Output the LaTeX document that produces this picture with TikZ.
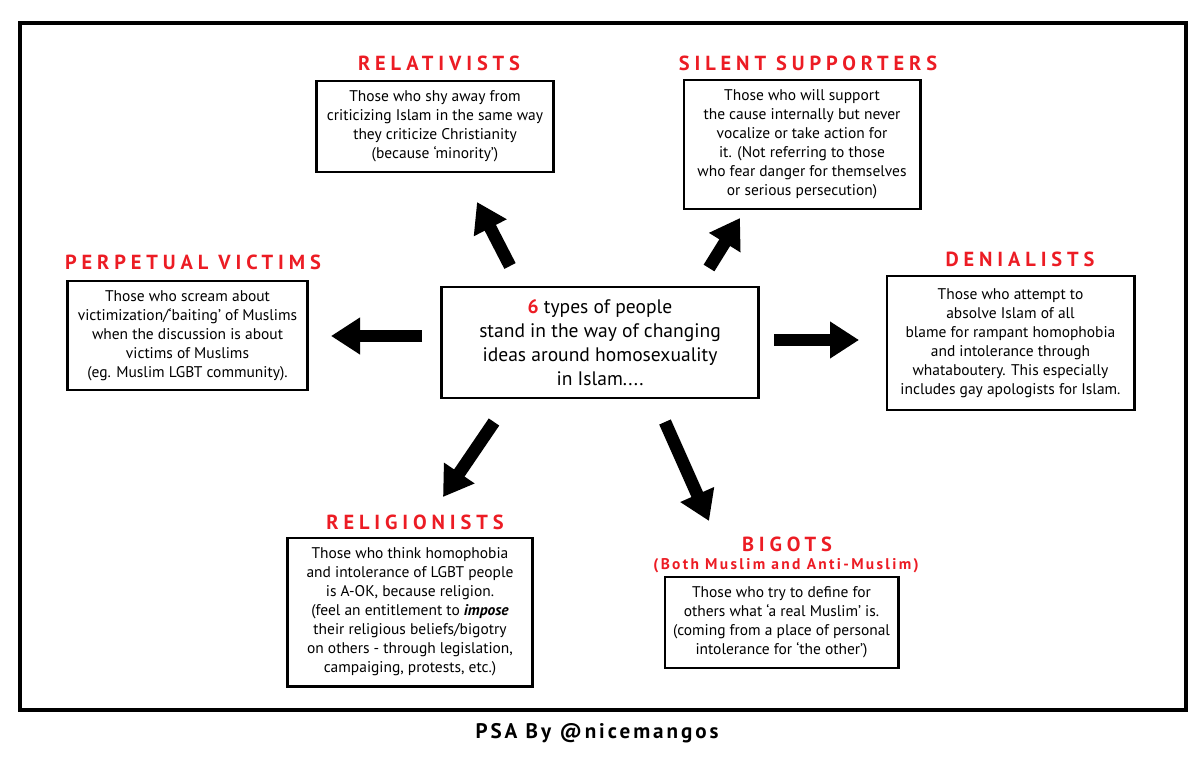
\documentclass[tikz,border=0pt]{standalone}
\usepackage{fontspec}
\setmainfont{PT Sans}
\usetikzlibrary{arrows.meta}
\tikzset{
  frame-line/.style={line width=3.5pt, draw=black},
  box-plain/.style={
    draw=black,
    line width=2.1pt,
    align=center,
    inner sep=0pt,
    font={\fontsize{11}{13.5}\selectfont}
  },
  box-hub/.style={
    box-plain,
    font={\fontsize{13.9}{17}\selectfont}
  },
  title-red/.style={
    text=titlered,
    inner sep=0pt,
    font={\fontsize{14.5}{16}\selectfont\bfseries\addfontfeatures{LetterSpace=24}}
  },
  title-sub/.style={
    title-red,
    font={\fontsize{11}{13}\selectfont\bfseries\addfontfeatures{LetterSpace=15}}
  },
  fat-arrow/.style={
    draw=black,
    line width=9pt,
    -{Triangle[length=7.25mm, width=8.75mm]}
  }
}
\definecolor{titlered}{RGB}{236,28,36}

\begin{document}
\begin{tikzpicture}[x=0.025cm, y=-0.025cm]
  \useasboundingbox (0,0) rectangle (1200,761);
  \draw[frame-line] (20,23) rectangle (1186,710);

  % centre box
  \node[box-hub, minimum width=7.9cm, minimum height=2.775cm] (hub) at (600,342.5)
    {{\color{titlered}\bfseries 6} types of people\\
     stand in the way of changing\\
     ideas around homosexuality\\
     in Islam....};

  % the six groups
  \node[title-red] (rel-title) at (439,63) {RELATIVISTS};
  \node[box-plain, minimum width=5.9cm, minimum height=2.275cm] (rel) at (435,126.5)
    {Those who shy away from\\
     criticizing Islam in the same way\\
     they criticize Christianity\\
     (because ‘minority’)};

  \node[title-red] (sil-title) at (808,63) {SILENT SUPPORTERS};
  \node[box-plain, minimum width=5.9cm, minimum height=3.225cm] (sil) at (802,144.5)
    {Those who will support\\
     the cause internally but never\\
     vocalize or take action for\\
     it. (Not referring to those\\
     who fear danger for themselves\\
     or serious persecution)};

  \node[title-red] (vic-title) at (193,262) {PERPETUAL VICTIMS};
  \node[box-plain, minimum width=5.975cm, minimum height=2.725cm] (vic) at (187.5,335.5)
    {Those who scream about\\
     victimization/‘baiting’ of Muslims\\
     when the discussion is about\\
     victims of Muslims\\
     (eg. Muslim LGBT community).};

  \node[title-red] (den-title) at (1020,259) {DENIALISTS};
  \node[box-plain, minimum width=6.175cm, minimum height=3.35cm] (den) at (1010.5,343)
    {Those who attempt to\\
     absolve Islam of all\\
     blame for rampant homophobia\\
     and intolerance through\\
     whataboutery. This especially\\
     includes gay apologists for Islam.};

  \node[title-red] (relg-title) at (415,522) {RELIGIONISTS};
  \node[box-plain, minimum width=6.1cm, minimum height=3.7cm] (relg) at (410,612)
    {Those who think homophobia\\
     and intolerance of LGBT people\\
     is A-OK, because religion.\\
     (feel an entitlement to \textbf{\textit{impose}}\\
     their religious beliefs/bigotry\\
     on others - through legislation,\\
     campaiging, protests, etc.)};

  \node[title-red] (big-title) at (787,544) {BIGOTS};
  \node[title-sub] (big-sub) at (786,566) {(Both Muslim and Anti-Muslim)};
  \node[box-plain, minimum width=5.825cm, minimum height=2.275cm] (big) at (781.5,622.5)
    {Those who try to define for\\
     others what ‘a real Muslim’ is.\\
     (coming from a place of personal\\
     intolerance for ‘the other’)};

  % arrow ends: name/tail x/tail y/tip x/tip y
  \foreach \n/\sx/\sy/\ex/\ey in {up-l/510/266/477/202, up-r/709/268/740/218,
      left/422/336/331/336, right/774/340/859/340,
      down-l/494/422/443/497, down-r/665/422/709/521}{
    \coordinate (\n-a) at (\sx,\sy);
    \coordinate (\n-b) at (\ex,\ey);
    \draw[fat-arrow] (\n-a) -- (\n-b);
  }

  \node[font={\fontsize{15}{17}\selectfont\bfseries\addfontfeatures{LetterSpace=14}}] (credit) at (597,733)
    {PSA By @nicemangos};
\end{tikzpicture}
\end{document}
